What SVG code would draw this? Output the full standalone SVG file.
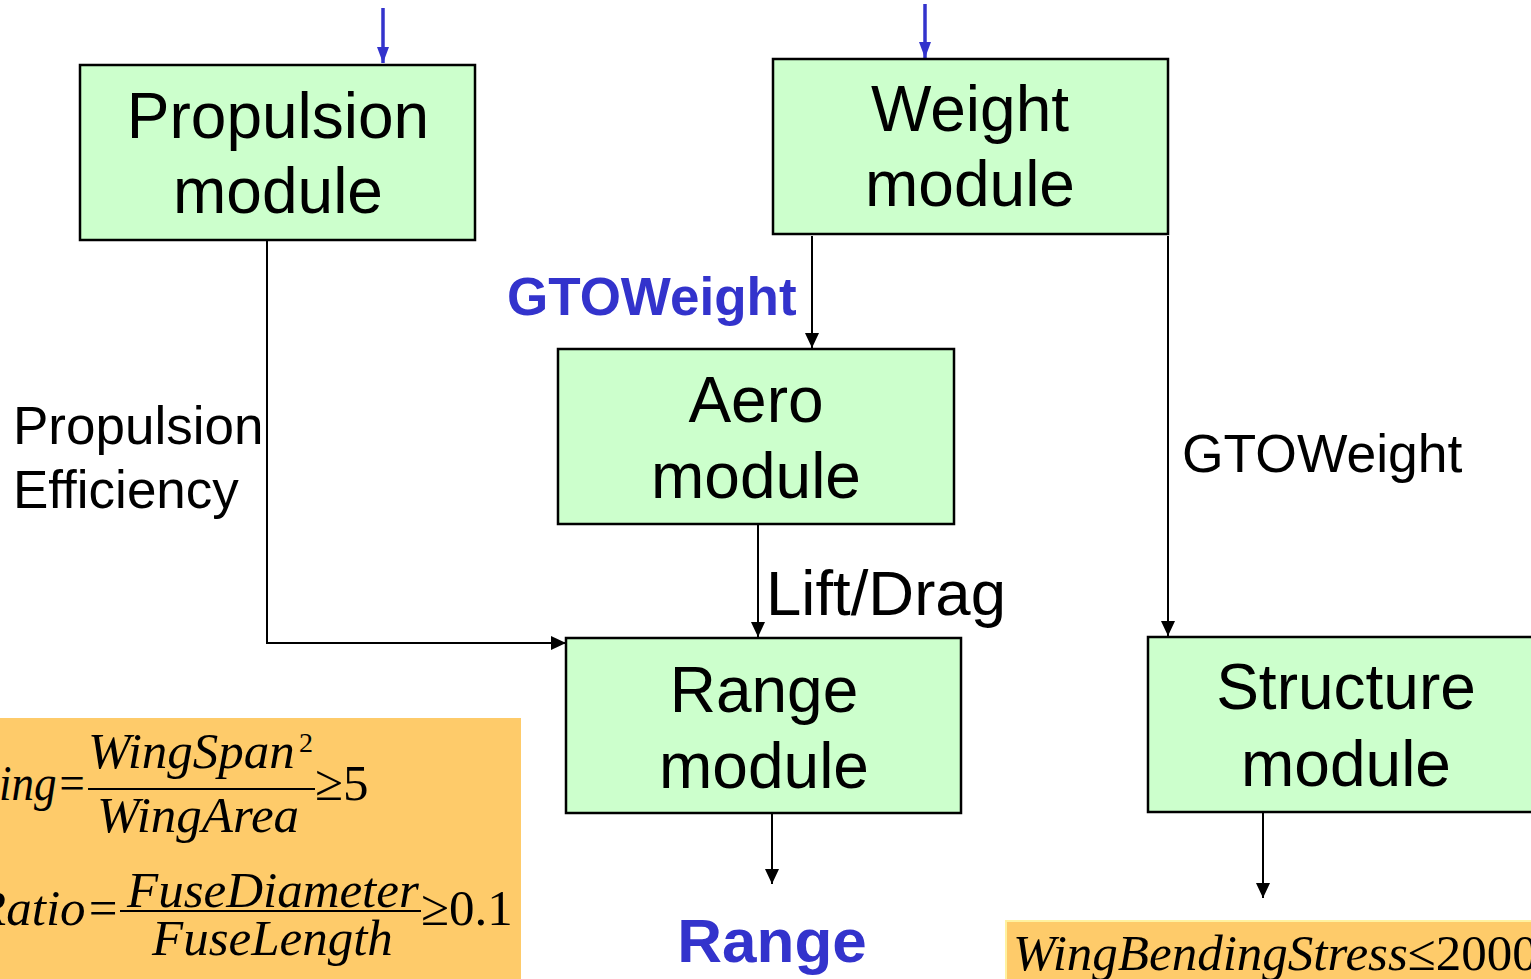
<svg xmlns="http://www.w3.org/2000/svg" width="1531" height="979" viewBox="0 0 1531 979">
<style>
.box{fill:#CCFFCC;stroke:#000;stroke-width:2.5}
.nt{font-family:"Liberation Sans",Arial,sans-serif;font-size:64px;fill:#000;text-anchor:middle}
.lbl{font-family:"Liberation Sans",Arial,sans-serif;font-size:53px;fill:#000}
.blue{font-family:"Liberation Sans",Arial,sans-serif;font-weight:bold;fill:#3333CC}
.c{fill:none;stroke:#000;stroke-width:2}
.cb{fill:none;stroke:#3333CC;stroke-width:3.5}
.m{font-family:"Liberation Serif","Times New Roman",serif;font-size:51px;font-style:italic;fill:#000}
.mu{font-family:"Liberation Serif","Times New Roman",serif;font-size:51px;fill:#000}
</style>
<defs>
<marker id="ah" markerUnits="userSpaceOnUse" markerWidth="18" markerHeight="18" refX="15" refY="7" orient="auto">
<path d="M0,0 L15,7 L0,14 Z" fill="#000"/>
</marker>
<marker id="ahb" markerUnits="userSpaceOnUse" markerWidth="20" markerHeight="20" refX="16" refY="6" orient="auto">
<path d="M0,0 L16,6 L0,12 Z" fill="#3333CC"/>
</marker>
</defs>
<rect width="1531" height="979" fill="#fff"/>

<g id="constraints-left">
<rect x="-5" y="718" width="526" height="262" fill="#FECB6A"/>
<text class="m" x="-1" y="800" textLength="88" lengthAdjust="spacingAndGlyphs">ing=</text>
<text class="m" x="88" y="768">WingSpan</text>
<text class="mu" x="299" y="752" style="font-size:28px">2</text>
<line x1="88" y1="789" x2="315" y2="789" stroke="#000" stroke-width="2"/>
<text class="m" x="97" y="832">WingArea</text>
<text class="mu" x="315" y="800">≥5</text>
<text class="m" x="120" y="925" text-anchor="end">Ratio=</text>
<text class="m" x="127" y="907">FuseDiameter</text>
<line x1="120" y1="911" x2="421" y2="911" stroke="#000" stroke-width="2"/>
<text class="m" x="152" y="955">FuseLength</text>
<text class="mu" x="421" y="925">≥0.1</text>
</g>

<g id="constraint-right">
<rect x="1006" y="921" width="540" height="70" fill="#FECB6A" stroke="#FFF2A0" stroke-width="2"/>
<text class="m" x="1013" y="970">WingBendingStress<tspan style="font-style:normal">≤2000</tspan></text>
</g>

<g id="connectors">
<path class="cb" d="M383,8 V63" marker-end="url(#ahb)"/>
<path class="cb" d="M925,4 V58" marker-end="url(#ahb)"/>
<path class="c" d="M267,240 V643 H566" marker-end="url(#ah)"/>
<path class="c" d="M812,236 V348" marker-end="url(#ah)"/>
<path class="c" d="M1168,236 V636" marker-end="url(#ah)"/>
<path class="c" d="M758,524 V637" marker-end="url(#ah)"/>
<path class="c" d="M772,813 V884" marker-end="url(#ah)"/>
<path class="c" d="M1263,812 V898" marker-end="url(#ah)"/>
<text class="blue" x="507" y="315" style="font-size:53px">GTOWeight</text>
<text class="lbl" x="13" y="444">Propulsion</text>
<text class="lbl" x="13" y="508">Efficiency</text>
<text class="lbl" x="1182" y="472" style="font-size:53.5px">GTOWeight</text>
<text class="lbl" x="766" y="615" style="font-size:63.5px">Lift/Drag</text>
<text class="blue" x="772" y="962" text-anchor="middle" style="font-size:62px">Range</text>
</g>

<g id="propulsion">
<rect class="box" x="80" y="65" width="395" height="175"/>
<text class="nt" x="278" y="138">Propulsion</text>
<text class="nt" x="278" y="213">module</text>
</g>
<g id="weight">
<rect class="box" x="773" y="59" width="395" height="175"/>
<text class="nt" x="970" y="131">Weight</text>
<text class="nt" x="970" y="206">module</text>
</g>
<g id="aero">
<rect class="box" x="558" y="349" width="396" height="175"/>
<text class="nt" x="756" y="422">Aero</text>
<text class="nt" x="756" y="498">module</text>
</g>
<g id="range">
<rect class="box" x="566" y="638" width="395" height="175"/>
<text class="nt" x="764" y="712">Range</text>
<text class="nt" x="764" y="788">module</text>
</g>
<g id="structure">
<rect class="box" x="1148" y="637" width="395" height="175"/>
<text class="nt" x="1346" y="709">Structure</text>
<text class="nt" x="1346" y="786">module</text>
</g>
</svg>
